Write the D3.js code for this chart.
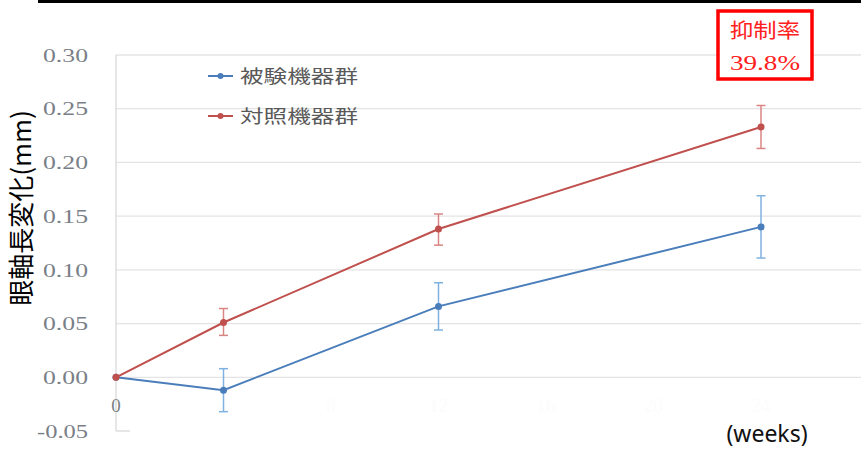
<!DOCTYPE html>
<html><head><meta charset="utf-8">
<script src="https://cdn.jsdelivr.net/npm/d3@7"></script>
<style>body{margin:0;background:#fff}svg{display:block}</style>
</head><body>
<svg id="c" width="861" height="450"></svg>
<script>
const weeks = [0, 4, 12, 24];
const seriesNames = ["被験機器群", "対照機器群"];
const testMean = [0.000, -0.012, 0.066, 0.140];
const testHi   = [0.000, 0.008, 0.088, 0.169];
const testLo   = [0.000, -0.032, 0.044, 0.111];
const ctrlMean = [0.000, 0.051, 0.138, 0.233];
const ctrlHi   = [0.000, 0.064, 0.152, 0.253];
const ctrlLo   = [0.000, 0.039, 0.123, 0.213];
const yTicks = [-0.05, 0, 0.05, 0.10, 0.15, 0.20, 0.25, 0.30];
const xTicks = [0, 4, 8, 12, 16, 20, 24];
const yTitle = "眼軸長変化(mm)";
const xTitle = "(weeks)";
const boxLines = ["抑制率", "39.8%"];

const svg = d3.select("#c");
const x = d3.scaleLinear().domain([0, 24]).range([116, 761]);
const y = d3.scaleLinear().domain([-0.05, 0.30]).range([431, 55]);
const serif = "'Liberation Serif', 'Times New Roman', Times, serif";

// top rule
svg.append("rect").attr("x", 38).attr("y", 0).attr("width", 823).attr("height", 3).attr("fill", "#000");

// gridlines
svg.append("g").selectAll("line").data(yTicks.filter(d => d > -0.05)).join("line")
  .attr("x1", 116).attr("x2", 861).attr("y1", d => y(d)).attr("y2", d => y(d))
  .attr("stroke", "#e4e4e4").attr("stroke-width", 1.3);

// y axis line
svg.append("line").attr("x1", 116).attr("x2", 116).attr("y1", y(0.30)).attr("y2", y(-0.05))
  .attr("stroke", "#d9d9d9").attr("stroke-width", 1.3);
svg.append("line").attr("x1", 116).attr("x2", 130).attr("y1", y(-0.05)).attr("y2", y(-0.05))
  .attr("stroke", "#d9d9d9").attr("stroke-width", 1.3);

// y tick labels
const fmt = d => d3.format(".2f")(d).replace("−", "-");
svg.append("g").selectAll("text").data(yTicks).join("text")
  .attr("x", 88).attr("y", d => y(d)).attr("dy", "0.35em").attr("text-anchor", "end")
  .attr("font-family", serif).attr("font-size", 19).attr("fill", "#7a7f87")
  .attr("textLength", d => d < 0 ? 51 : 45).attr("lengthAdjust", "spacingAndGlyphs")
  .text(fmt);

// x tick labels (almost invisible except 0)
svg.append("g").selectAll("text").data(xTicks).join("text")
  .attr("x", d => x(d)).attr("y", 412).attr("text-anchor", "middle")
  .attr("font-family", serif).attr("font-size", 19)
  .attr("fill", d => d === 0 ? "#7a7f87" : "#fcfcfc")
  .text(d => d);

// titles
svg.append("text").attr("transform", "translate(31,208) rotate(-90)").attr("text-anchor", "middle")
  .attr("font-family", "Noto Sans CJK JP, sans-serif").attr("font-size", 26).attr("fill", "#000")
  .text(yTitle);
svg.append("text").attr("x", 767).attr("y", 442).attr("text-anchor", "middle")
  .attr("font-family", "Noto Sans, sans-serif").attr("font-size", 23).attr("fill", "#111")
  .text(xTitle);

function drawSeries(mean, hi, lo, color, errColor) {
  const g = svg.append("g");
  g.selectAll("g.err").data(weeks.map((w, i) => ({w, hi: hi[i], lo: lo[i]})).filter(d => d.hi !== d.lo))
    .join(enter => {
      const e = enter.append("g").attr("class", "err");
      e.append("line").attr("x1", d => x(d.w)).attr("x2", d => x(d.w)).attr("y1", d => y(d.hi)).attr("y2", d => y(d.lo));
      e.append("line").attr("x1", d => x(d.w) - 4.5).attr("x2", d => x(d.w) + 4.5).attr("y1", d => y(d.hi)).attr("y2", d => y(d.hi));
      e.append("line").attr("x1", d => x(d.w) - 4.5).attr("x2", d => x(d.w) + 4.5).attr("y1", d => y(d.lo)).attr("y2", d => y(d.lo));
      return e;
    }).attr("stroke", errColor).attr("stroke-width", 1.5);
  const line = d3.line().x((d, i) => x(weeks[i])).y(d => y(d));
  g.append("path").datum(mean).attr("d", line).attr("fill", "none").attr("stroke", color).attr("stroke-width", 2);
  g.selectAll("circle").data(mean).join("circle").attr("cx", (d, i) => x(weeks[i])).attr("cy", d => y(d))
    .attr("r", 3.5).attr("fill", color);
}
drawSeries(testMean, testHi, testLo, "#4a7ebb", "#7fb2e0");
drawSeries(ctrlMean, ctrlHi, ctrlLo, "#c0504d", "#d98583");

// legend
const legColors = ["#4a7ebb", "#c0504d"];
const leg = svg.append("g").selectAll("g").data(seriesNames).join("g")
  .attr("transform", (d, i) => `translate(0,${76 + i * 40})`);
leg.append("line").attr("x1", 208).attr("x2", 233).attr("y1", 0).attr("y2", 0)
  .attr("stroke", (d, i) => legColors[i]).attr("stroke-width", 2);
leg.append("circle").attr("cx", 220.5).attr("cy", 0).attr("r", 3).attr("fill", (d, i) => legColors[i]);
leg.append("text").attr("x", 240).attr("y", 0).attr("dy", "0.38em")
  .attr("font-family", "Noto Sans CJK JP, sans-serif").attr("font-size", 18).attr("fill", "#595959")
  .attr("textLength", 118).attr("lengthAdjust", "spacingAndGlyphs")
  .text(d => d);

// red box
svg.append("rect").attr("x", 718).attr("y", 11).attr("width", 94).attr("height", 68)
  .attr("fill", "#fff").attr("stroke", "#ff0000").attr("stroke-width", 3.5);
svg.append("g").selectAll("text").data(boxLines).join("text")
  .attr("x", 765).attr("y", (d, i) => 31 + i * 31).attr("dy", "0.36em").attr("text-anchor", "middle")
  .attr("font-family", (d, i) => i === 0 ? "Noto Sans CJK JP, sans-serif" : serif)
  .attr("font-size", (d, i) => i === 0 ? 20 : 21).attr("fill", "#ff2020")
  .attr("textLength", 70).attr("lengthAdjust", "spacingAndGlyphs")
  .text(d => d);
</script>
</body></html>
